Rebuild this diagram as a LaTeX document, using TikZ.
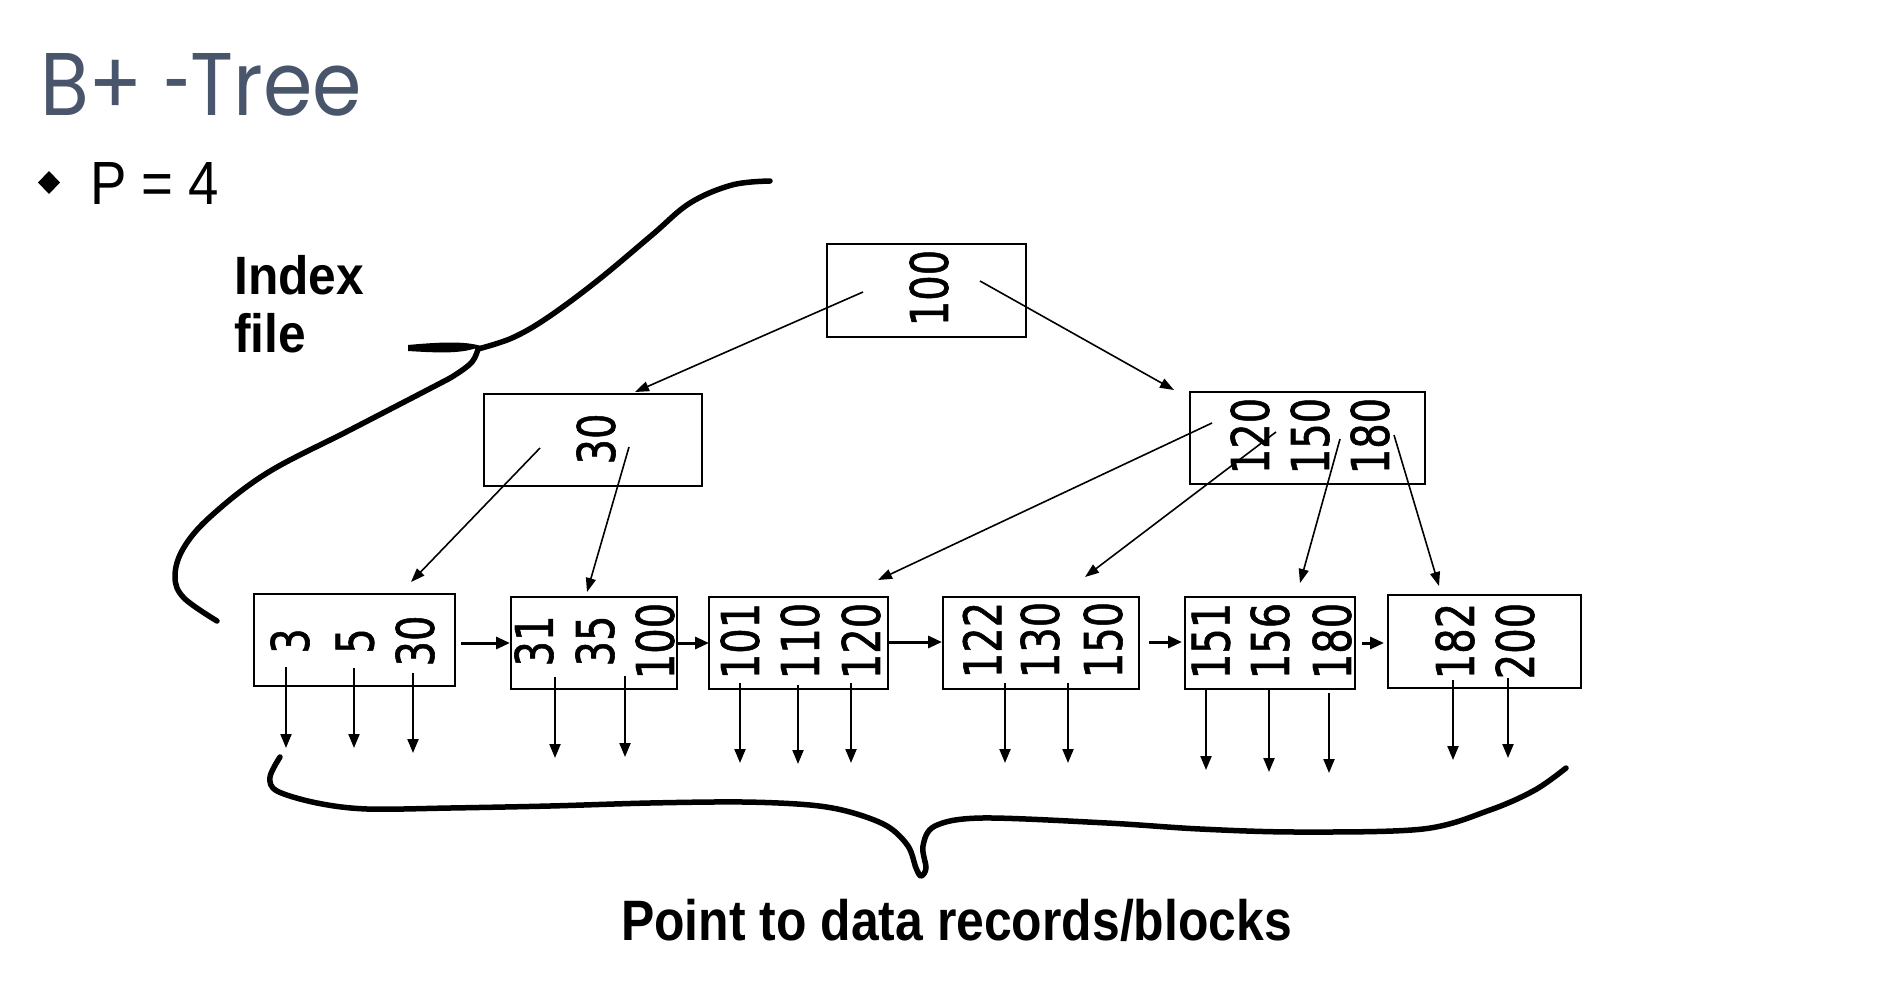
\documentclass[tikz,border=0pt]{standalone}
\usepackage{fontspec}
\setmainfont{Liberation Sans}
\newfontfamily\titlefont{Poppins}
\newfontfamily\numfont{DejaVu Sans}[FakeBold=1.2]
\usetikzlibrary{arrows.meta,calc}
\definecolor{titlecol}{HTML}{48556A}
\newcommand{\keytext}[1]{\scalebox{0.77}[1]{\numfont\fontsize{52}{52}\selectfont #1}}
\begin{document}
\begin{tikzpicture}[x=1pt,y=-1pt,
  box/.style={draw, line width=2.2pt, inner sep=0pt, anchor=north west},
  key/.style={rotate=90, inner sep=0pt},
  tptr/.style={line width=1.6pt, -{Triangle[length=14pt,width=10pt]}},
  dptr/.style={line width=2.1pt, -{Triangle[length=14pt,width=11pt]}},
  hptr/.style={line width=3pt, -{Triangle[length=14pt,width=12pt]}},
  brace/.style={line width=5.5pt, line cap=round, line join=round},
  lbl/.style={inner sep=0pt, anchor=base west}]
\useasboundingbox (0,0) rectangle (1879,982);
\fill[white] (0,0) rectangle (1879,982);

% title and bullet
\node[lbl, text=titlecol] (title) at (40,115) {\resizebox{322pt}{62pt}{\titlefont B+ \scalebox{0.6}[1]{-}Tree}};
\fill (49,171) -- (60,182.5) -- (49,194) -- (38,182.5) -- cycle;
\node[lbl] (p4) at (90,204) {\resizebox{129pt}{42pt}{P = 4}};
\node[lbl] (index) at (234,294) {\scalebox{0.92}[1]{\fontsize{54}{54}\selectfont\bfseries Index}};
\node[lbl] (file) at (234,352) {\scalebox{0.92}[1]{\fontsize{54}{54}\selectfont\bfseries file}};
\node[lbl] (point) at (621,940) {\scalebox{0.875}[1]{\fontsize{57}{57}\selectfont\bfseries Point to data records/blocks}};

% boxes
\node[box, minimum width=199pt, minimum height=93pt] (root) at (826,243) {};
\node[box, minimum width=218pt, minimum height=92pt] (n30) at (483,393) {};
\node[box, minimum width=235pt, minimum height=92pt] (n120) at (1189,391) {};
\node[box, minimum width=201pt, minimum height=92pt] (L1) at (253,593) {};
\node[box, minimum width=166pt, minimum height=92pt] (L2) at (510,596) {};
\node[box, minimum width=179pt, minimum height=92pt] (L3) at (708,596) {};
\node[box, minimum width=196pt, minimum height=92pt] (L4) at (942,596) {};
\node[box, minimum width=170pt, minimum height=92pt] (L5) at (1184,596) {};
\node[box, minimum width=193pt, minimum height=93pt] (L6) at (1387,594) {};

% keys
\node[key] (k100) at (929,288) {\keytext{100}};
\node[key] (k30) at (596,439) {\keytext{30}};
\node[key] (k120) at (1250,436) {\keytext{120}};
\node[key] (k150) at (1310,436) {\keytext{150}};
\node[key] (k180) at (1370,436) {\keytext{180}};
\node[key] (a3) at (290,641) {\keytext{3}};
\node[key] (a5) at (355,641) {\keytext{5}};
\node[key] (a30) at (415,641) {\keytext{30}};
\node[key] (b31) at (534,641) {\keytext{31}};
\node[key] (b35) at (595,641) {\keytext{35}};
\node[key] (b100) at (655,641) {\keytext{100}};
\node[key] (c101) at (740,641) {\keytext{101}};
\node[key] (c110) at (800,641) {\keytext{110}};
\node[key] (c120) at (861,641) {\keytext{120}};
\node[key] (d122) at (982,640) {\keytext{122}};
\node[key] (d130) at (1040,640) {\keytext{130}};
\node[key] (d150) at (1103,640) {\keytext{150}};
\node[key] (e151) at (1211,641) {\keytext{151}};
\node[key] (e156) at (1270,641) {\keytext{156}};
\node[key] (e180) at (1332,641) {\keytext{180}};
\node[key] (f182) at (1455,641) {\keytext{182}};
\node[key] (f200) at (1515,641) {\keytext{200}};

% tree pointers
\foreach \n/\xa/\ya/\xb/\yb in {1/863/292/635/392, 2/980/281/1174/390, 3/540/448/411/582,
  4/629/447/587/592, 5/1212/423/878/580, 6/1276/432/1085/577, 7/1340/439/1300/583,
  8/1394/435/1439/586}{
  \coordinate (ts\n) at (\xa,\ya);
  \coordinate (te\n) at (\xb,\yb);
  \draw[tptr] (ts\n) -- (te\n);
}

% leaf links
\draw[hptr] ([xshift=5pt]L1.east |- 0,643) -- (L2.west |- 0,643);
\draw[hptr] (L2.east |- 0,643) -- ([xshift=1pt]L3.west |- 0,643);
\draw[hptr] (L3.east |- 0,642) -- (L4.west |- 0,642);
\draw[hptr] ([xshift=9pt]L4.east |- 0,642) -- ([xshift=-2pt]L5.west |- 0,642);
\draw[hptr] ([xshift=6pt]L5.east |- 0,643) -- ([xshift=-3pt]L6.west |- 0,643);

% data pointers
\foreach \n/\x/\ya/\yb in {1/286/667/748, 2/354/668/748, 3/413/673/753,
  4/555/677/758, 5/625/676/757,
  6/740/683/763, 7/798/685/764, 8/851/683/763,
  9/1005/683/763, 10/1068/683/763,
  11/1206/688/770, 12/1269/690/772, 13/1329/693/773,
  14/1453/680/760, 15/1508/678/758}{
  \coordinate (ds\n) at (\x,\ya);
  \coordinate (de\n) at (\x,\yb);
  \draw[dptr] (ds\n) -- (de\n);
}

% index-file brace
\draw[brace] plot[smooth, tension=0.6] coordinates {(770,181) (732,185) (690,203) (652,235)
  (597,281) (547,318) (512,338) (478,349)};
\draw[brace] plot[smooth, tension=0.6] coordinates {(478,349) (472,362) (455,375) (433,387)
  (350,430) (267,473) (210,517) (183,549) (175,577) (184,598) (217,621)};
\fill (408,345) .. controls (440,342) and (465,341) .. (481,346)
  .. controls (465,354) and (440,353) .. (408,351) -- cycle;

% data brace
\draw[brace] plot[smooth, tension=0.55] coordinates {(280,757) (270,777)
  (277,791) (317,803) (367,809) (450,808) (550,806) (650,803) (743,802) (810,805) (850,812)
  (887,826) (908,846) (916,868) (921,876) (926,868) (923,846) (935,826) (982,818)
  (1107,823) (1200,829) (1298,832) (1423,829) (1490,810) (1535,790) (1566,768)};
\end{tikzpicture}
\end{document}
